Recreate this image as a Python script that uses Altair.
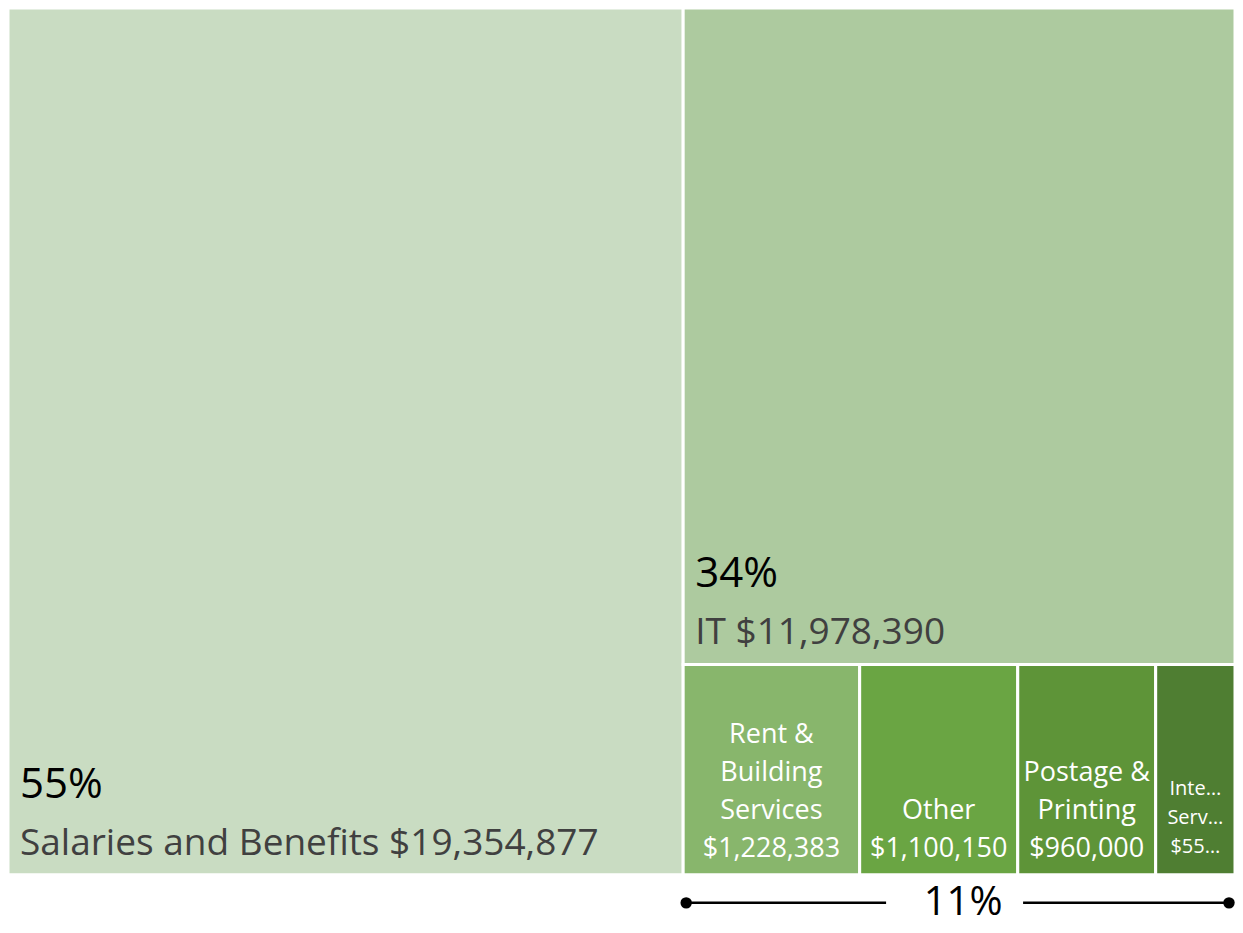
import altair as alt
import pandas as pd

# ---- data ----
categories = ["Salaries and Benefits", "IT", "Rent & Building Services", "Other",
              "Postage & Printing", "Internal Services"]
amounts = [19354877, 11978390, 1228383, 1100150, 960000, 552000]
fill_colors = ["#c9dcc2", "#adca9f", "#88b66c", "#6aa543", "#5e9438", "#4f7e32"]
small_lines = [["Rent &", "Building", "Services"], ["Other"],
               ["Postage &", "Printing"], ["Internal", "Services"]]

W, H = 1227, 917
YDOM = 933 / 882          # treemap occupies y in [0, 1]
TH = H / YDOM             # treemap height in pixels
FONT = "Open Sans"

MID_LH, MID_BOTTOM = 38, 18
TINY_LH, TINY_BOTTOM = 29, 22

total = sum(amounts)
f0 = amounts[0] / total
rest = total - amounts[0]
h_it = amounts[1] / rest
small_sum = sum(amounts[2:])

def money(v):
    return "${:,}".format(v)

rows = []
rows.append(dict(cat=categories[0], x=0.0, x2=f0, y=0.0, y2=1.0))
rows.append(dict(cat=categories[1], x=f0, x2=1.0, y=0.0, y2=h_it))
cx = f0
for c, a in zip(categories[2:], amounts[2:]):
    w = (1 - f0) * a / small_sum
    rows.append(dict(cat=c, x=cx, x2=cx + w, y=h_it, y2=1.0))
    cx += w
for r, a in zip(rows, amounts):
    r["value"] = a
    r["pct"] = "{}%".format(round(a / total * 100))
    r["name"] = "{} {}".format(r["cat"], money(a))
    r["xc"] = (r["x"] + r["x2"]) / 2
    r["ty"] = r["y2"]
for i, (r, lines, a) in enumerate(zip(rows[2:], small_lines, amounts[2:])):
    r["multi"] = "\n".join(lines + [money(a)])
    lh, bot = (TINY_LH, TINY_BOTTOM) if i == 3 else (MID_LH, MID_BOTTOM)
    r["ty"] = r["y2"] - (bot + len(lines) * lh) / TH
df = pd.DataFrame(rows)

xs = alt.Scale(domain=[0, 1], nice=False, zero=False)
ys = alt.Scale(domain=[0, YDOM], nice=False, zero=False, reverse=True)
X = lambda f: alt.X(f, type="quantitative", scale=xs, axis=None)
Y = lambda f: alt.Y(f, type="quantitative", scale=ys, axis=None)

base = alt.Chart(df)

rects = base.mark_rect(stroke="white", strokeWidth=3).encode(
    x=X("x"), x2="x2", y=Y("y"), y2="y2",
    color=alt.Color("cat:N", scale=alt.Scale(domain=categories, range=fill_colors), legend=None),
)

big = base.transform_filter(alt.FieldOneOfPredicate(field="cat", oneOf=categories[:2]))
pct_txt = big.mark_text(align="left", baseline="alphabetic", dx=12, dy=-77,
                        font=FONT, fontSize=42, color="#000000").encode(
    x=X("x"), y=Y("y2"), text="pct:N")
name_txt = big.mark_text(align="left", baseline="alphabetic", dx=12, dy=-20,
                         font=FONT, fontSize=37, color="#404040").encode(
    x=X("x"), y=Y("y2"), text="name:N")

mid = base.transform_filter(alt.FieldOneOfPredicate(field="cat", oneOf=categories[2:5]))
mid_txt = mid.mark_text(align="center", baseline="alphabetic", lineBreak="\n", lineHeight=MID_LH,
                        font=FONT, fontSize=27, color="white").encode(
    x=X("xc"), y=Y("ty"), text="multi:N")

tiny = base.transform_filter(alt.FieldOneOfPredicate(field="cat", oneOf=categories[5:]))
tiny_txt = tiny.mark_text(align="center", baseline="alphabetic", lineBreak="\n", lineHeight=TINY_LH,
                          limit=56, font=FONT, fontSize=20, color="white").encode(
    x=X("xc"), y=Y("ty"), text="multi:N")

# ---- bracket annotation for the small group ----
g0, g1 = f0, 1.0
gc = (g0 + g1) / 2
ann_y = 1 + 28 / TH
small_pct = "{}%".format(round(small_sum / total * 100))
lines_df = pd.DataFrame([
    dict(x=g0 + 3 / W, x2=gc - 73 / W, y=ann_y),
    dict(x=gc + 64 / W, x2=g1 - 6 / W, y=ann_y),
])
dots_df = pd.DataFrame([dict(x=g0 + 3 / W, y=ann_y), dict(x=g1 - 6 / W, y=ann_y)])
lbl_df = pd.DataFrame([dict(x=gc, y=ann_y, t=small_pct)])

ann_rules = alt.Chart(lines_df).mark_rule(color="#000000", strokeWidth=2.5).encode(
    x=X("x"), x2="x2", y=Y("y"))
ann_dots = alt.Chart(dots_df).mark_circle(color="#000000", opacity=1, size=130).encode(
    x=X("x"), y=Y("y"))
ann_txt = alt.Chart(lbl_df).mark_text(align="center", baseline="middle", dx=4, dy=0,
                                      font=FONT, fontSize=40, color="#000000").encode(
    x=X("x"), y=Y("y"), text="t:N")

chart = alt.layer(rects, pct_txt, name_txt, mid_txt, tiny_txt, ann_rules, ann_dots, ann_txt).properties(
    width=W, height=H, padding=0, autosize=alt.AutoSizeParams(type="none"),
    background="white",
).configure_view(stroke=None)

chart.save("out.html", embed_options={"renderer": "svg", "actions": False})
